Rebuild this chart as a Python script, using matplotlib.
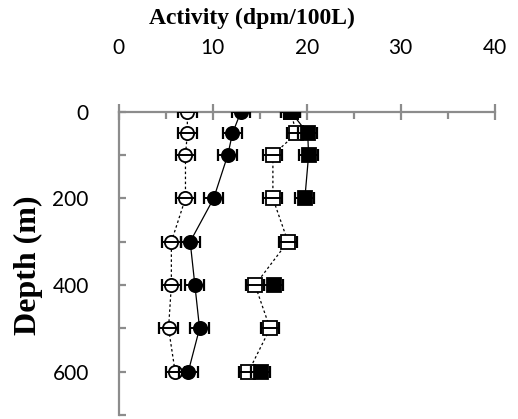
import numpy as np
import matplotlib
matplotlib.use("Agg")
import matplotlib.pyplot as plt

# Perfiles de actividad vs profundidad
profundidad = [0, 50, 100, 200, 300, 400, 500, 600]
circulo_abierto = [7.3, 7.3, 7.1, 7.1, 5.6, 5.6, 5.3, 6.0]
circulo_lleno = [13.0, 12.1, 11.6, 10.1, 7.6, 8.1, 8.6, 7.4]
cuadro_abierto = [18.3, 18.9, 16.4, 16.4, 18.0, 14.5, 16.1, 13.8]
cuadro_lleno = [18.3, 20.1, 20.2, 19.8, np.nan, 16.5, np.nan, 15.1]
error = 1.0

ticks_x = [0, 10, 20, 30, 40]
ticks_y = [0, 200, 400, 600]

fig = plt.figure(figsize=(5.18, 4.19), dpi=100)
ax = fig.add_axes([0.2292, 0.0095, 0.7259, 0.7239])

gris = "#8c8c8c"

series = [
    (circulo_abierto, "o", "white", (0, (2, 2))),
    (circulo_lleno, "o", "black", "-"),
    (cuadro_abierto, "s", "white", (0, (2, 2))),
    (cuadro_lleno, "s", "black", "-"),
]

for i, (valores, marcador, relleno, estilo) in enumerate(series):
    z = 2 + 2 * i
    ax.plot(valores, profundidad, color="black", lw=0.9, ls=estilo,
            marker=marcador, ms=9.5 if marcador == "o" else 10,
            mfc=relleno, mec="black", mew=1.3, zorder=z)
    ax.errorbar(valores, profundidad, xerr=error, fmt="none", ecolor="black",
                elinewidth=1.4, capsize=4.5, capthick=1.6, zorder=z + 1)

ax.set_xlim(0, 40)
ax.set_ylim(700, 0)

ax.xaxis.tick_top()
ax.set_xticks(ticks_x)
ax.set_xticks([5, 15, 25, 35], minor=True)
ax.set_yticks(range(0, 701, 100))
ax.set_yticklabels([str(v) if v in ticks_y else "" for v in range(0, 701, 100)])

for lado in ["right", "bottom"]:
    ax.spines[lado].set_visible(False)
for lado in ["left", "top"]:
    ax.spines[lado].set_color(gris)
    ax.spines[lado].set_linewidth(1.6)

ax.tick_params(axis="x", which="major", direction="inout", length=11,
               width=1.6, color=gris, labelsize=15, pad=33)
ax.tick_params(axis="x", which="minor", direction="in", length=5,
               width=1.6, color=gris)
ax.tick_params(axis="y", which="major", direction="in", length=5,
               width=1.6, color=gris, labelsize=15, pad=21.5)
for etiqueta in ax.get_xticklabels() + ax.get_yticklabels():
    etiqueta.set_fontfamily("Lato")

fig.text(28 / 518, 1 - 265 / 419, "Depth (m)", rotation=90, ha="center", va="center",
         fontfamily="Liberation Serif", fontweight="bold", fontsize=23)
fig.text(252 / 518, 1 - 18 / 419, "Activity (dpm/100L)", ha="center", va="center",
         fontfamily="Liberation Serif", fontweight="bold", fontsize=17)

fig.savefig("out.png", dpi=100)
